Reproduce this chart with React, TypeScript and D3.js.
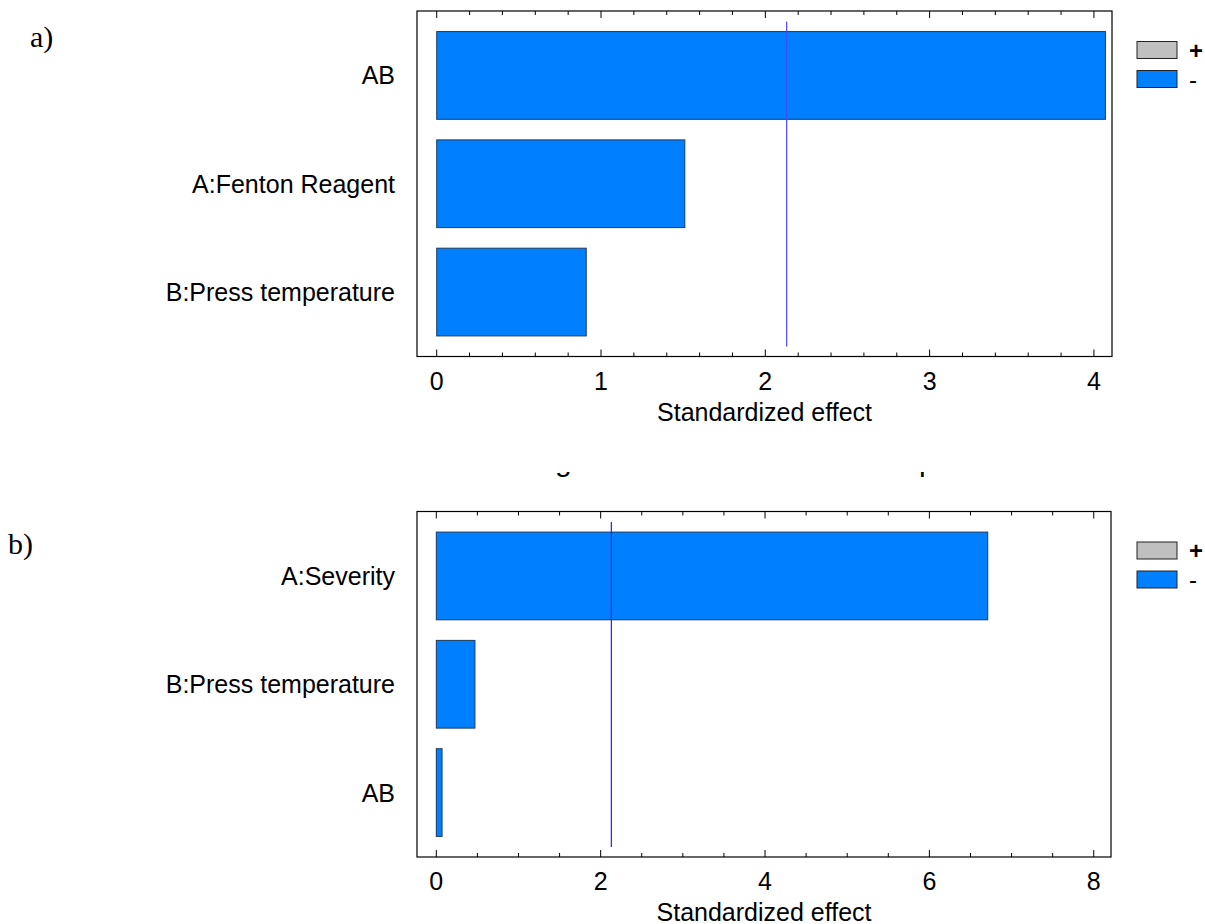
import React from "react";
import * as d3 from "d3";

// ---- Data ----
const panelALabels = ["AB", "A:Fenton Reagent", "B:Press temperature"];
const panelAValues = [4.07, 1.51, 0.91];
const panelAThreshold = 2.13;
const panelAMajorTicks = [0, 1, 2, 3, 4];
const panelAMinorStep = 0.2;
const panelADomain = [-0.12, 4.11];

const panelBLabels = ["A:Severity", "B:Press temperature", "AB"];
const panelBValues = [6.71, 0.47, 0.07];
const panelBThreshold = 2.13;
const panelBMajorTicks = [0, 2, 4, 6, 8];
const panelBMinorStep = 0.5;
const panelBDomain = [-0.235, 8.21];

const legendItems = [
  { label: "+", fill: "#c0c0c0" },
  { label: "-", fill: "#0080ff" },
];

const SANS = "'Liberation Sans', Arial, sans-serif";
const SERIF = "'Liberation Serif', 'Times New Roman', serif";

type PanelProps = {
  top: number;
  labels: string[];
  values: number[];
  threshold: number;
  majorTicks: number[];
  minorStep: number;
  domain: number[];
  right: number;
  lineColor: string;
};

function Panel({ top, labels, values, threshold, majorTicks, minorStep, domain, right, lineColor }: PanelProps) {
  const left = 417;
  const bottom = top + 345.5;
  const x = d3.scaleLinear().domain(domain).range([left, right]);
  const y = d3.scaleBand<string>().domain(labels).range([top, bottom]).padding(0.19);
  const maxMajor = majorTicks[majorTicks.length - 1];
  const minorTicks = d3
    .range(0, maxMajor + minorStep / 2, minorStep)
    .filter((v) => !majorTicks.some((m) => Math.abs(m - v) < 1e-6));

  return (
    <g>
      {labels.map((l, i) => (
        <rect
          key={l}
          x={x(0)}
          y={y(l)!}
          width={x(values[i]) - x(0)}
          height={y.bandwidth()}
          fill="#0080ff"
          stroke="#1d3b5c"
          strokeWidth={1}
        />
      ))}
      <line
        x1={x(threshold)}
        x2={x(threshold)}
        y1={top + 10.5}
        y2={bottom - 10}
        stroke={lineColor}
        strokeWidth={1.2}
      />
      <rect x={left} y={top} width={right - left} height={bottom - top} fill="none" stroke="#000" strokeWidth={1.2} />
      {majorTicks.map((t) => (
        <g key={"M" + t}>
          <line x1={x(t)} x2={x(t)} y1={top} y2={top + 7} stroke="#000" strokeWidth={1} />
          <line x1={x(t)} x2={x(t)} y1={bottom} y2={bottom - 7} stroke="#000" strokeWidth={1} />
          <text x={x(t)} y={bottom + 33} textAnchor="middle" fontFamily={SANS} fontSize={25} fill="#000">
            {t}
          </text>
        </g>
      ))}
      {minorTicks.map((t) => (
        <g key={"m" + t}>
          <line x1={x(t)} x2={x(t)} y1={top} y2={top + 4} stroke="#000" strokeWidth={1} />
          <line x1={x(t)} x2={x(t)} y1={bottom} y2={bottom - 4} stroke="#000" strokeWidth={1} />
        </g>
      ))}
      <text x={(left + right) / 2} y={bottom + 64} textAnchor="middle" fontFamily={SANS} fontSize={25} fill="#000">
        Standardized effect
      </text>
      {labels.map((l) => (
        <text
          key={"lab" + l}
          x={395}
          y={y(l)! + y.bandwidth() / 2}
          dy="0.36em"
          textAnchor="end"
          fontFamily={SANS}
          fontSize={25}
          fill="#000"
        >
          {l}
        </text>
      ))}
      {legendItems.map((it, i) => (
        <g key={"lg" + i}>
          <rect x={1137} y={top + 30.5 + i * 29} width={40} height={17} fill={it.fill} stroke="#222" strokeWidth={1} />
          <text
            x={1189}
            y={top + 39 + i * 29}
            dy="0.36em"
            fontFamily={SANS}
            fontSize={24}
            fontWeight={i === 0 ? "bold" : "normal"}
            fill="#000"
          >
            {it.label}
          </text>
        </g>
      ))}
    </g>
  );
}

export default function App() {
  return (
    <svg
      width={1205}
      height={924}
      viewBox="0 0 1205 924"
      style={{ position: "absolute", left: 0, top: 0, background: "#fff" }}
    >
      <rect x={0} y={0} width={1205} height={924} fill="#fff" />
      <defs>
        <clipPath id="captionClip">
          <rect x={0} y={472} width={1205} height={15} />
        </clipPath>
      </defs>
      <text x={30} y={47} fontFamily={SERIF} fontSize={30} fill="#000">
        a)
      </text>
      <text x={8} y={554} fontFamily={SERIF} fontSize={30} fill="#000">
        b)
      </text>
      <g clipPath="url(#captionClip)">
        <text x={555} y={471} fontFamily={SANS} fontSize={30} fill="#000">g</text>
        <text x={919} y={471} fontFamily={SANS} fontSize={30} fill="#000">p</text>
      </g>
      <Panel
        top={11}
        labels={panelALabels}
        values={panelAValues}
        threshold={panelAThreshold}
        majorTicks={panelAMajorTicks}
        minorStep={panelAMinorStep}
        domain={panelADomain}
        right={1112}
        lineColor="#4848ff"
      />
      <Panel
        top={511.5}
        labels={panelBLabels}
        values={panelBValues}
        threshold={panelBThreshold}
        majorTicks={panelBMajorTicks}
        minorStep={panelBMinorStep}
        domain={panelBDomain}
        right={1111}
        lineColor="#2020ff"
      />
    </svg>
  );
}
